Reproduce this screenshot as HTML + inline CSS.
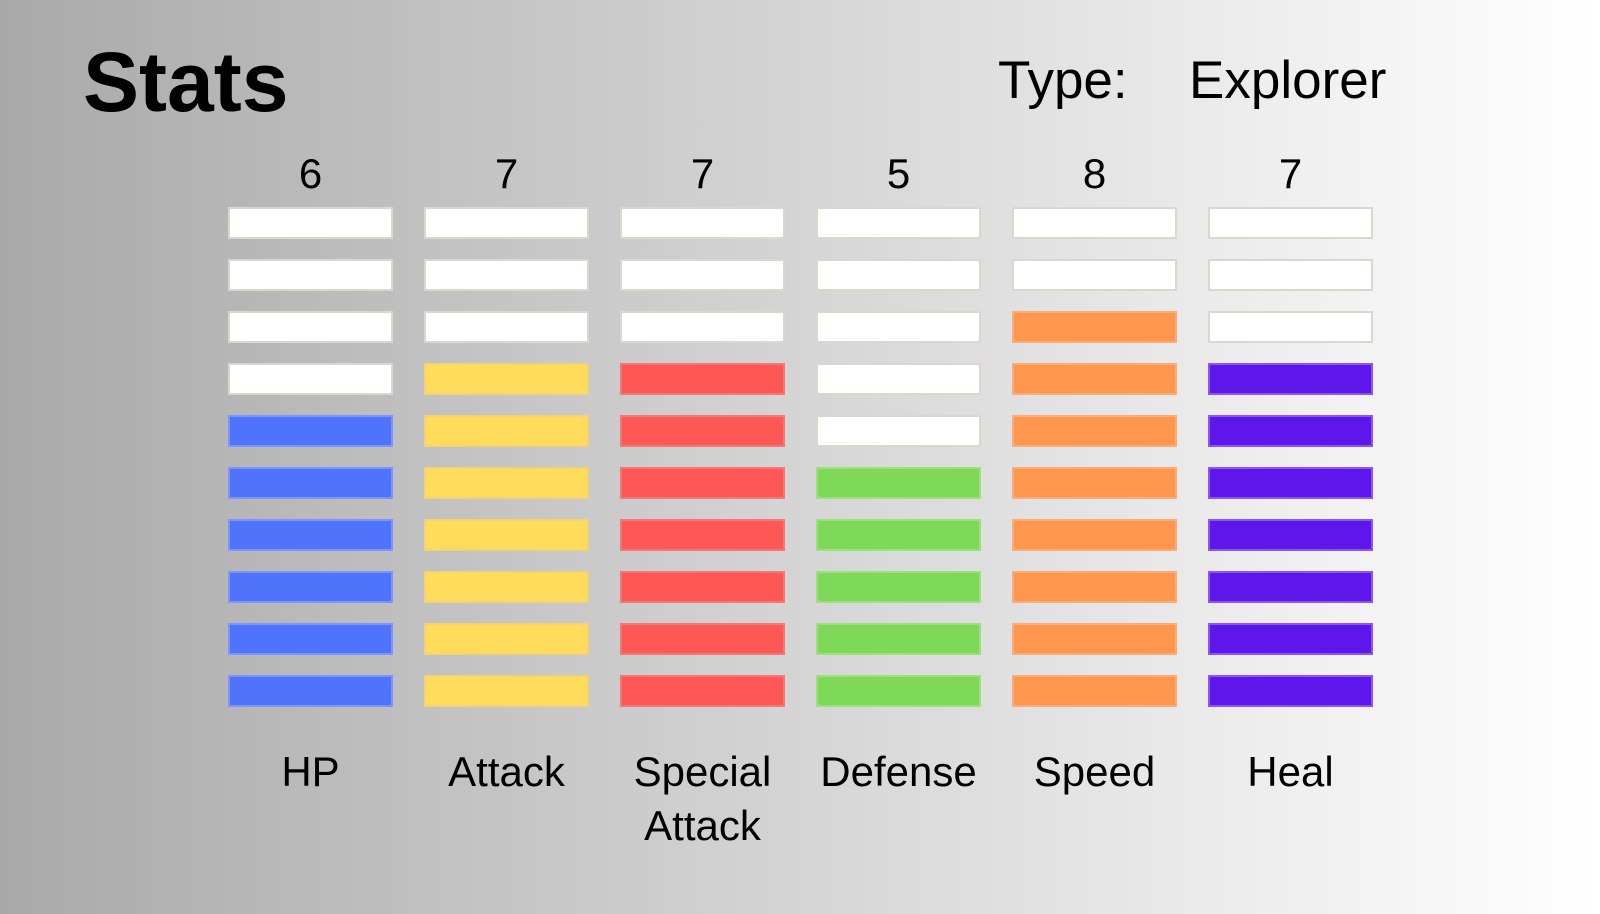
<!DOCTYPE html>
<html><head><meta charset="utf-8"><style>
html,body{margin:0;padding:0}
body{width:1600px;height:914px;overflow:hidden;background:linear-gradient(90deg,#a9a9a9 0%,#c8c8c8 35%,#e6e6e6 70%,#ffffff 100%);font-family:"Liberation Sans",sans-serif;position:relative}
.t{position:absolute;color:#000;white-space:nowrap}
</style></head><body>
<div class="t" style="left:83px;top:34px;font-size:84px;font-weight:bold">Stats</div>
<div class="t" style="left:998px;top:50px;font-size:53px">Type:</div>
<div class="t" style="left:1189px;top:50px;font-size:53px">Explorer</div>
<svg id="chart" width="1600" height="914" style="position:absolute;left:0;top:0"></svg>
<script>
const categories=["HP","Attack","Special Attack","Defense","Speed","Heal"];
const values=[6,7,7,5,8,7];
const maxValue=10;
const colors=["#4f73fb","#ffdc5a","#ff5656","#7dd957","#ff964e","#5e17eb"];
const strokes=["#7d95fb","#f3d07a","#f07878","#9ee07e","#f8ad78","#8a55f0"];
const NS="http://www.w3.org/2000/svg";
const svg=document.getElementById('chart');
const colX=i=>228+i*196;
const rowY=r=>207+(maxValue-1-r)*52; // r=0 bottom
const barW=165,barH=32;
function mk(tag,attrs){const e=document.createElementNS(NS,tag);for(const k in attrs)e.setAttribute(k,attrs[k]);svg.appendChild(e);return e;}
categories.forEach((c,i)=>{
  const cx=colX(i)+barW/2;
  const v=mk('text',{x:cx,y:188,'text-anchor':'middle','font-size':42,'font-family':'Liberation Sans, sans-serif',fill:'#000'});
  v.textContent=values[i];
  
  
  for(let r=0;r<maxValue;r++){
    const filled=r<values[i];
    const b=mk('rect',{x:colX(i)+1,y:rowY(r)+1,width:barW-2,height:barH-2,fill:filled?colors[i]:'#ffffff',stroke:filled?strokes[i]:'#ddd6cc','stroke-width':2});
    
    
  }
  const words=c.split(' ');
  words.forEach((w,k)=>{
    const t=mk('text',{x:cx,y:786+k*54,'text-anchor':'middle','font-size':42,'font-family':'Liberation Sans, sans-serif',fill:'#000'});
    t.textContent=w;
    
    
  });
});
</script>
</body></html>
